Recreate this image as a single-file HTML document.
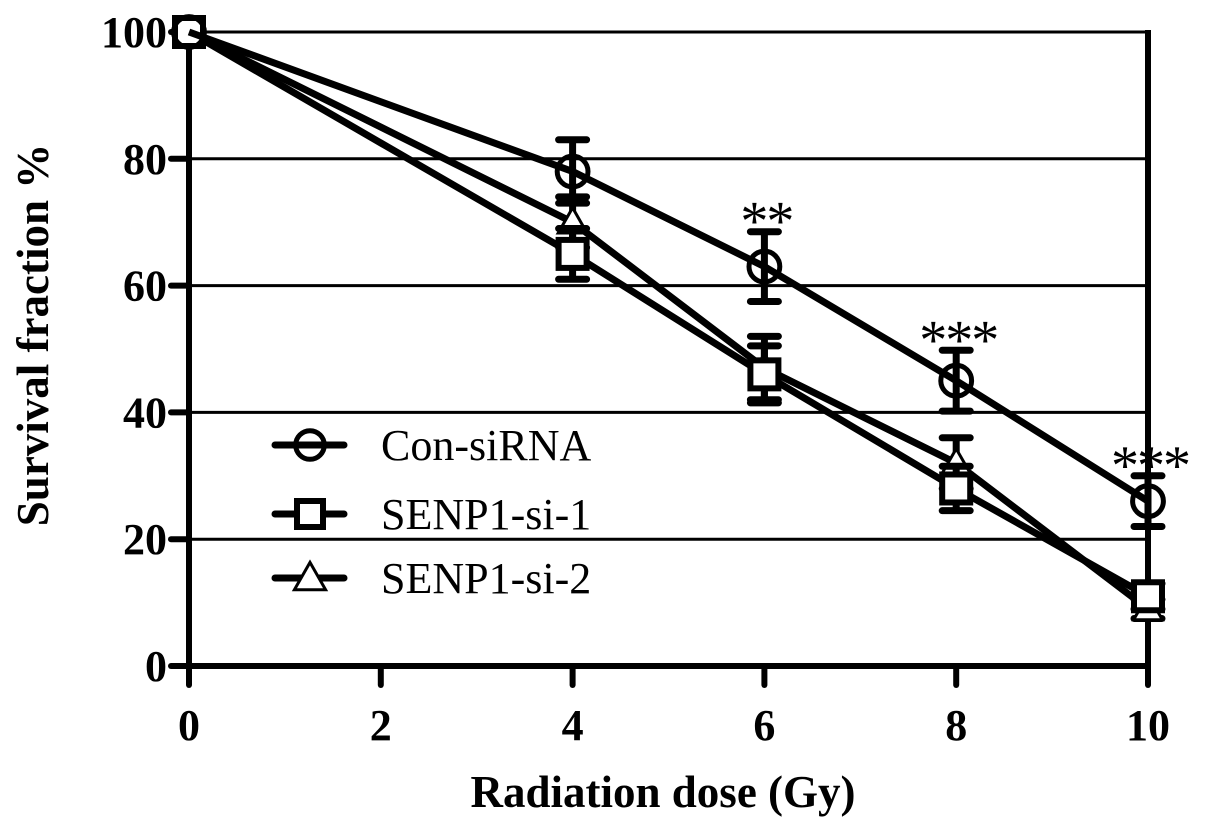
<!DOCTYPE html>
<html><head><meta charset="utf-8"><style>
html,body{margin:0;padding:0;background:#fff;}
svg{display:block;}
text{font-family:"Liberation Serif",serif;fill:#000;}
</style></head><body>
<svg id="chart" width="1205" height="826" viewBox="0 0 1205 826">
<g id="grid"></g>
<g id="axes"></g>
<g id="series"></g>
<g id="legend"></g>
<text x="663" y="807" font-size="45" font-weight="bold" text-anchor="middle">Radiation dose (Gy)</text>
<text transform="translate(48,335) rotate(-90)" font-size="45" font-weight="bold" text-anchor="middle">Survival fraction %</text>
</svg>
<script>
const doses = [0, 4, 6, 8, 10];
const conVals = [100, 78, 63, 45, 26];
const conErr = [0, 5, 5.5, 4.8, 4];
const si1Vals = [100, 65, 46, 28, 11];
const si1Err = [0, 4, 4.5, 3.5, 2];
const si2Vals = [100, 70, 47, 32, 9];
const si2Err = [0, 4, 5, 4, 1.5];
const xTicks = [0, 2, 4, 6, 8, 10];
const yTicks = [0, 20, 40, 60, 80, 100];
const stars = ["", "", "**", "***", "***"];
const seriesNames = ["Con-siRNA", "SENP1-si-1", "SENP1-si-2"];

const NS = "http://www.w3.org/2000/svg";
const X0 = 189, X1 = 1148, Y0 = 666, Y1 = 32;
const xs = v => X0 + (v - 0) / 10 * (X1 - X0);
const ys = v => Y0 - v / 100 * (Y0 - Y1);
function mk(tag, attrs, parent) {
  const e = document.createElementNS(NS, tag);
  for (const k in attrs) e.setAttribute(k, attrs[k]);
  parent.appendChild(e);
  return e;
}
const grid = document.getElementById('grid');
const axes = document.getElementById('axes');
const series = document.getElementById('series');
const legend = document.getElementById('legend');

yTicks.forEach(t => {
  if (t > 0) {
    const g = mk('line', {x1: X0, x2: X1, y1: ys(t), y2: ys(t), stroke: '#000', 'stroke-width': 3}, grid);
    
    
  }
  const tk = mk('line', {x1: 171, x2: X0, y1: ys(t), y2: ys(t), stroke: '#000', 'stroke-width': 6, 'stroke-linecap': 'round'}, axes);
  
  
  const lb = mk('text', {x: 167, y: ys(t) + 15, 'font-size': 44, 'font-weight': 'bold', 'text-anchor': 'end'}, axes);
  lb.textContent = t;
  
  
});
xTicks.forEach(t => {
  const tk = mk('line', {x1: xs(t), x2: xs(t), y1: Y0, y2: 685, stroke: '#000', 'stroke-width': 6, 'stroke-linecap': 'round'}, axes);
  
  
  const lb = mk('text', {x: xs(t), y: 740, 'font-size': 44, 'font-weight': 'bold', 'text-anchor': 'middle'}, axes);
  lb.textContent = t;
  
  
});
const ya = mk('line', {x1: X0, x2: X0, y1: Y1 - 2, y2: Y0 + 3, stroke: '#000', 'stroke-width': 6}, axes);


const xa = mk('line', {x1: X0 - 3, x2: X1 + 3, y1: Y0, y2: Y0, stroke: '#000', 'stroke-width': 6}, axes);


const rb = mk('line', {x1: X1, x2: X1, y1: Y1 - 2, y2: Y0, stroke: '#000', 'stroke-width': 6}, axes);



function marker(type, cx, cy, parent, sz) {
  let e;
  if (type === 0) e = mk('circle', {cx, cy, r: sz * 0.55, fill: 'none', stroke: '#000', 'stroke-width': 5}, parent);
  else if (type === 1) e = mk('rect', {x: cx - sz / 2, y: cy - sz / 2, width: sz, height: sz, fill: '#fff', stroke: '#000', 'stroke-width': 6}, parent);
  else e = mk('polygon', {points: `${cx},${cy - sz * 0.6} ${cx - sz * 0.6},${cy + sz * 0.45} ${cx + sz * 0.6},${cy + sz * 0.45}`, fill: '#fff', stroke: '#000', 'stroke-width': 3}, parent);
  return e;
}
const all = [[conVals, conErr], [si1Vals, si1Err], [si2Vals, si2Err]];
[2, 1, 0].forEach(si => {
  const [vals, errs] = all[si];
  const g = mk('g', {}, series);
  
  
  const pts = doses.map((d, i) => xs(d) + ',' + ys(vals[i])).join(' ');
  const pl = mk('polyline', {points: pts, fill: 'none', stroke: '#000', 'stroke-width': 7}, g);
  
  
  doses.forEach((d, i) => {
    if (errs[i] > 0) {
      const cx = xs(d), top = ys(vals[i] + errs[i]), bot = ys(vals[i] - errs[i]);
      const eb = mk('path', {d: `M${cx},${top}V${bot}M${cx - 14},${top}H${cx + 14}M${cx - 14},${bot}H${cx + 14}`, stroke: '#000', 'stroke-width': 7, 'stroke-linecap': 'round', fill: 'none'}, g);
      
      
    }
    const m = marker(si, xs(d), ys(vals[i]), g, si === 2 ? 24 : 28);
    
    
  });
});
doses.forEach((d, i) => {
  if (!stars[i]) return;
  const top = ys(conVals[i] + conErr[i]);
  const st = mk('text', {x: xs(d) + 2, y: top + 8, 'font-size': 56, 'font-family': 'Liberation Sans, sans-serif', 'text-anchor': 'middle', 'letter-spacing': '-2'}, series);
  st.textContent = stars[i];
  
  
});
const legY = [445, 514, 578];
seriesNames.forEach((n, i) => {
  const g = mk('g', {}, legend);
  
  
  mk('line', {x1: 275, x2: 344, y1: legY[i], y2: legY[i], stroke: '#000', 'stroke-width': 7, 'stroke-linecap': 'round'}, g);
  marker(i, 310, legY[i], g, 26);
  const t = mk('text', {x: 381, y: legY[i] + 15, 'font-size': 44}, g);
  t.textContent = n;
});
</script>
</body></html>
